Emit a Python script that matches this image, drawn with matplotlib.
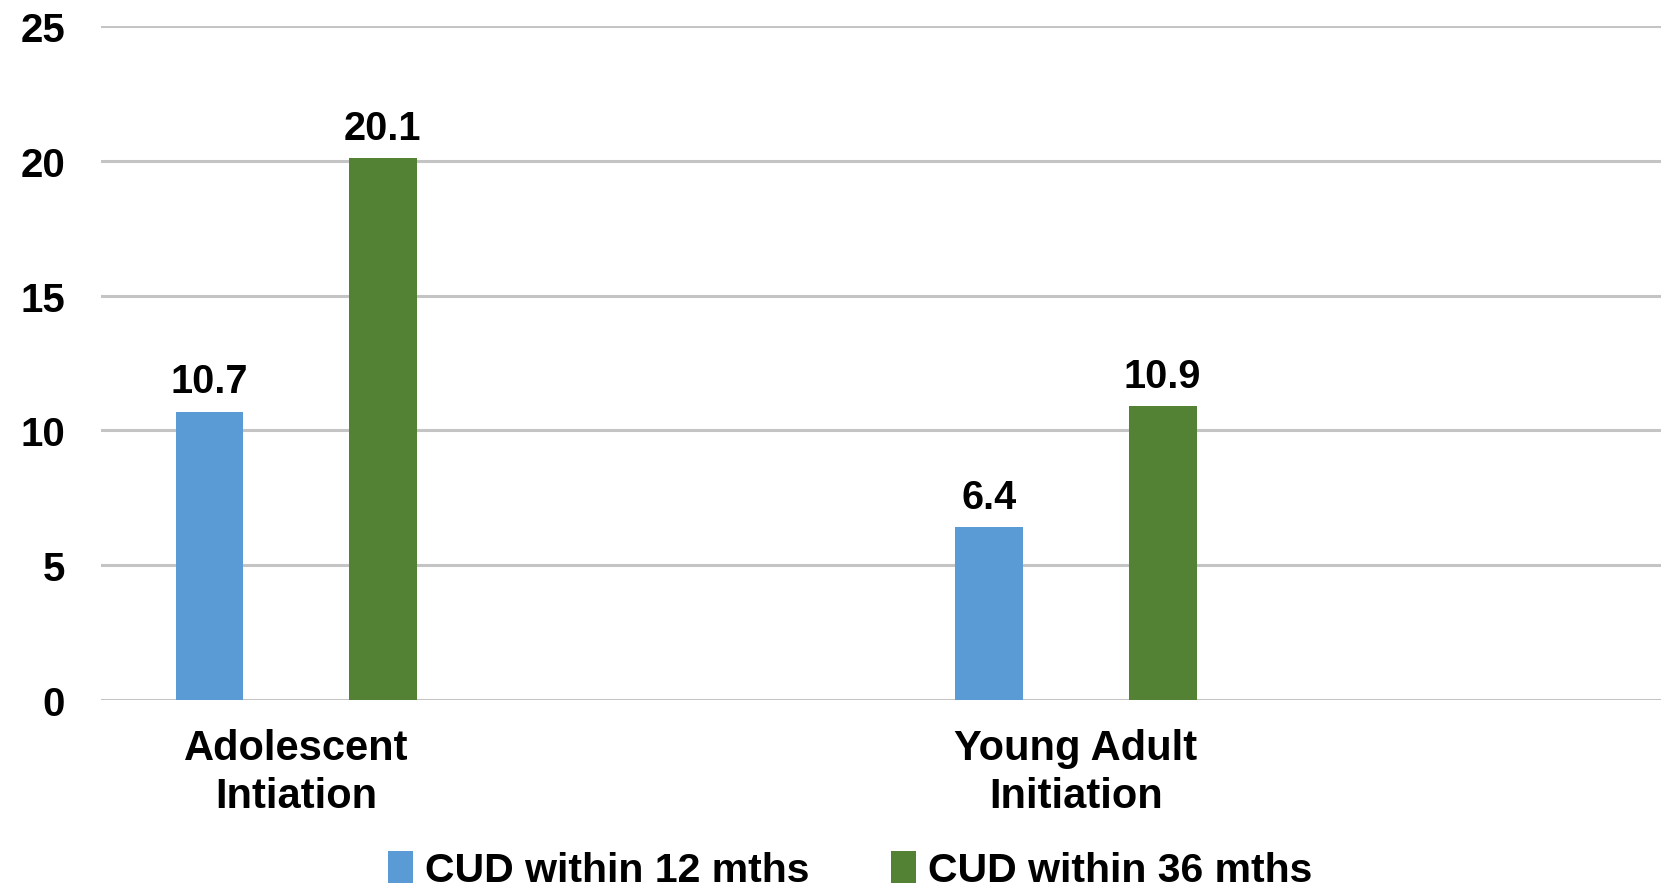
import matplotlib
matplotlib.use("Agg")
import matplotlib.pyplot as plt
import numpy as np

plt.rcParams['font.family'] = ['Liberation Sans', 'DejaVu Sans']
plt.rcParams['font.weight'] = 'bold'

categories = ["Adolescent\nIntiation", "Young Adult\nInitiation"]
series_names = ["CUD within 12 mths", "CUD within 36 mths"]
cud_12 = [10.7, 6.4]
cud_36 = [20.1, 10.9]
y_ticks = [0, 5, 10, 15, 20, 25]

colors = ["#5B9BD5", "#548235"]

fig = plt.figure(figsize=(16.67, 8.87), dpi=100)
ax = fig.add_axes([0.0606, 0.2097, 0.9358, 0.7599])

x = np.arange(len(categories))
offset = 0.111
width = 0.087

b1 = ax.bar(x - offset, cud_12, width, color=colors[0], label=series_names[0], zorder=3)
b2 = ax.bar(x + offset, cud_36, width, color=colors[1], label=series_names[1], zorder=3)

for bars in (b1, b2):
    ax.bar_label(bars, fmt="%.1f", padding=8, fontsize=28.5, fontweight='bold')

ax.set_xlim(-0.25, 1.75)
ax.set_ylim(0, 25)
ax.set_yticks(y_ticks)
ax.set_yticklabels([str(t) for t in y_ticks], fontsize=29, fontweight='bold')
ax.set_xticks(x)
ax.set_xticklabels(categories, fontsize=30, fontweight='bold', linespacing=1.28)

ax.tick_params(axis='y', length=0, pad=26)
ax.tick_params(axis='x', length=0, pad=20)

for s in ax.spines.values():
    s.set_visible(False)

ax.yaxis.grid(True, color='#c4c4c4', linewidth=2.2, zorder=0)
ax.set_axisbelow(True)

handles = [b1, b2]
leg = fig.legend(handles, series_names, loc='lower center', bbox_to_anchor=(0.51, -0.022),
                 ncol=2, frameon=False, fontsize=29.5, handlelength=0.6, handleheight=0.8,
                 handletextpad=0.3, columnspacing=2.0, borderaxespad=0)
for t in leg.get_texts():
    t.set_fontweight('bold')

fig.savefig("out.png", dpi=100)
